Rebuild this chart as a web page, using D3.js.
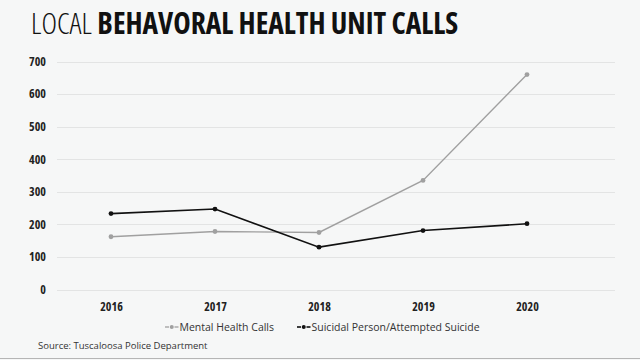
<!DOCTYPE html>
<html><head><meta charset="utf-8">
<script src="https://cdn.jsdelivr.net/npm/d3@7"></script>
<style>
html,body{margin:0;padding:0;background:#f6f7f7;}
svg{display:block;}
</style></head>
<body>
<svg id="c" width="640" height="360"></svg>
<script>
const years = ["2016","2017","2018","2019","2020"];
const mentalHealth = [162, 178, 175, 335, 660];
const suicidal = [233, 247, 130, 181, 202];
const yTicks = [0,100,200,300,400,500,600,700];
const seriesNames = ["Mental Health Calls","Suicidal Person/Attempted Suicide"];
const seriesColors = ["#a0a0a0","#111111"];

const svg = d3.select("#c");
const cond = "'Open Sans', 'Liberation Sans Narrow', sans-serif";

svg.append("rect").attr("width",640).attr("height",360).attr("fill","#f6f7f7");
svg.append("line").attr("x1",0).attr("x2",640).attr("y1",358.5).attr("y2",358.5).attr("stroke","#b5b5b5").attr("stroke-width",1);

// title
const t = svg.append("text").attr("x",31).attr("y",33.5).attr("font-family",cond)
  .attr("font-size",29.5).attr("fill","#111").style("font-stretch","condensed");
t.append("tspan").attr("font-weight",300).text("LOCAL ");
t.append("tspan").attr("font-weight",700).text("BEHAVORAL HEALTH UNIT CALLS");

const x = d3.scalePoint().domain(years).range([111,527]);
const y = d3.scaleLinear().domain([0,700]).range([289.5,61.5]);

// grid
svg.append("g").selectAll("line").data(yTicks).join("line")
  .attr("x1",57).attr("x2",615).attr("y1",d=>Math.round(y(d))+0.5).attr("y2",d=>Math.round(y(d))+0.5)
  .attr("stroke","#e3e4e4").attr("stroke-width",1);

// y axis
const ya = svg.append("g").attr("transform","translate(46,0)")
  .call(d3.axisLeft(y).tickValues(yTicks).tickSize(0).tickPadding(0));
ya.select(".domain").remove();
ya.selectAll("text").attr("font-family",cond).attr("font-weight",700).attr("font-size",12)
  .attr("fill","#222").style("font-stretch","condensed");

// x axis
const xa = svg.append("g").attr("transform","translate(0,300)")
  .call(d3.axisBottom(x).tickSize(0).tickPadding(0));
xa.select(".domain").remove();
xa.selectAll("text").attr("font-family",cond).attr("font-weight",700).attr("font-size",12)
  .attr("fill","#222").attr("dy","0.9em").style("font-stretch","condensed");

const line = d3.line().x((d,i)=>x(years[i])).y(d=>y(d));
[mentalHealth, suicidal].forEach((s,k)=>{
  svg.append("path").datum(s).attr("d",line).attr("fill","none")
    .attr("stroke",seriesColors[k]).attr("stroke-width",k?1.6:1.4);
  svg.append("g").selectAll("circle").data(s).join("circle")
    .attr("cx",(d,i)=>x(years[i])).attr("cy",d=>y(d)).attr("r",2.4).attr("fill",seriesColors[k]);
});

// legend
const leg = svg.append("g").attr("transform","translate(0,327)");
const lx = [165, 297];
seriesNames.forEach((n,k)=>{
  const g = leg.append("g").attr("transform",`translate(${lx[k]},0)`);
  g.append("line").attr("x1",0).attr("x2",4).attr("y1",0).attr("y2",0)
    .attr("stroke",seriesColors[k]).attr("stroke-width",k?1.6:1.3);
  g.append("line").attr("x1",9.5).attr("x2",13.5).attr("y1",0).attr("y2",0)
    .attr("stroke",seriesColors[k]).attr("stroke-width",k?1.6:1.3);
  g.append("circle").attr("cx",6.75).attr("cy",0).attr("r",2).attr("fill",seriesColors[k]);
  g.append("text").attr("x",14.5).attr("y",0).attr("dy","0.35em").attr("font-family","'Open Sans', sans-serif")
    .attr("font-size",10.5).attr("fill","#333").text(n);
});

svg.append("text").attr("x",38).attr("y",349).attr("font-family","'Open Sans', sans-serif")
  .attr("font-size",9.5).attr("fill","#333").text("Source: Tuscaloosa Police Department");
</script>
</body></html>
